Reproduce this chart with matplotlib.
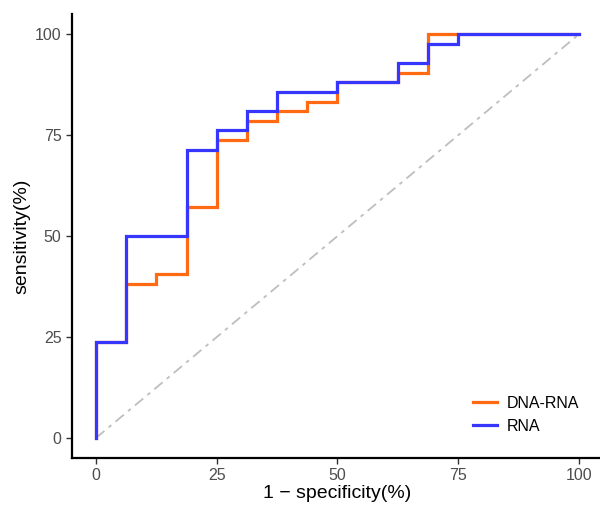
import matplotlib
matplotlib.use('Agg')
import matplotlib.pyplot as plt

plt.rcParams['font.family'] = ['Liberation Sans', 'DejaVu Sans']

# ROC steps (1 - specificity, sensitivity), in percent
fpr_dna_rna = [0, 0, 6.25, 6.25, 12.5, 12.5, 18.75, 18.75, 25, 25, 31.25, 31.25,
               37.5, 37.5, 43.75, 43.75, 50, 50, 62.5, 62.5, 68.75, 68.75, 100]
tpr_dna_rna = [0, 23.8, 23.8, 38.1, 38.1, 40.5, 40.5, 57.1, 57.1, 73.8, 73.8, 78.6,
               78.6, 81.0, 81.0, 83.3, 83.3, 88.1, 88.1, 90.5, 90.5, 100, 100]

fpr_rna = [0, 0, 6.25, 6.25, 18.75, 18.75, 25, 25, 31.25, 31.25, 37.5, 37.5,
           50, 50, 62.5, 62.5, 68.75, 68.75, 75, 75, 100]
tpr_rna = [0, 23.8, 23.8, 50, 50, 71.4, 71.4, 76.2, 76.2, 81.0, 81.0, 85.7,
           85.7, 88.1, 88.1, 92.9, 92.9, 97.6, 97.6, 100, 100]

ticks = [0, 25, 50, 75, 100]

fig = plt.figure(figsize=(6, 5.05), dpi=100)
ax = fig.add_axes([0.12, 0.093, 0.885, 0.879])

ax.plot([0, 100], [0, 100], color='#BEBEBE', lw=1.3, dashes=(6, 3, 2, 3))
ax.plot(fpr_dna_rna, tpr_dna_rna, color='#FF6A13', lw=2.3, label='DNA-RNA',
        solid_joinstyle='miter')
ax.plot(fpr_rna, tpr_rna, color='#3636FF', lw=2.3, label='RNA',
        solid_joinstyle='miter')

ax.set_xlim(-5, 105)
ax.set_ylim(-5, 105)
ax.set_xticks(ticks)
ax.set_yticks(ticks)
ax.tick_params(colors='#333333', labelcolor='#4D4D4D', labelsize=11.5,
               length=4, width=1)
for s in ['top', 'right']:
    ax.spines[s].set_visible(False)
for s in ['left', 'bottom']:
    ax.spines[s].set_linewidth(1.6)

ax.set_xlabel('1 \u2212 specificity(%)', fontsize=14, labelpad=1)
ax.set_ylabel('sensitivity(%)', fontsize=14, labelpad=3)

ax.legend(loc='center left', bbox_to_anchor=(78, 5.7),
          bbox_transform=ax.transData, frameon=False, borderpad=0,
          borderaxespad=0, fontsize=11.5, handlelength=1.55,
          handletextpad=0.6, labelspacing=0.5)

fig.savefig('out.png', dpi=100)
